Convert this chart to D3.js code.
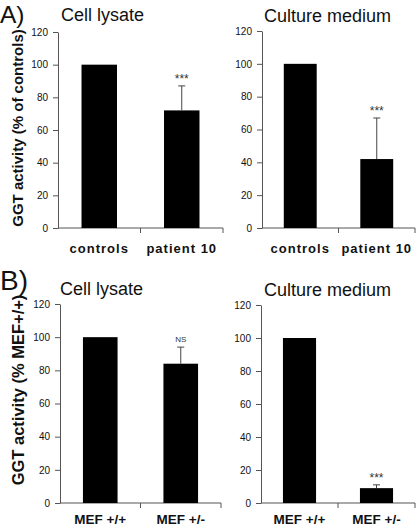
<!DOCTYPE html>
<html>
<head>
<meta charset="utf-8">
<script src="https://cdn.jsdelivr.net/npm/d3@7"></script>
<style>
  html, body { margin: 0; padding: 0; background: #fff; }
  svg { display: block; }
  text { font-family: "Liberation Sans", Arial, sans-serif; }
</style>
</head>
<body>
<svg id="chart" width="416" height="531"></svg>
<script>
// ---- data ----
const categoriesA = ["controls", "patient 10"];
const categoriesB = ["MEF +/+", "MEF +/-"];
const lysateA = [100, 72];
const lysateAErr = [0, 15];
const mediumA = [100, 42];
const mediumAErr = [0, 25];
const lysateB = [100, 84];
const lysateBErr = [0, 10];
const mediumB = [100, 9];
const mediumBErr = [0, 2];
const sigLysateA = ["", "***"];
const sigMediumA = ["", "***"];
const sigLysateB = ["", "NS"];
const sigMediumB = ["", "***"];
const yTicks = [0, 20, 40, 60, 80, 100, 120];
const panelTitles = ["Cell lysate", "Culture medium"];
const yTitleA = "GGT activity (% of controls)";
const yTitleB = "GGT activity (% MEF+/+)";

const svg = d3.select("#chart");

function drawPanel(cfg) {
  const { x0, x1, yTop, yBot, cats, vals, errs, sigs, title, titleX, titleY, labelStyle, labelY } = cfg;
  const x = d3.scaleBand().domain(cats).range([x0, x1]).paddingInner(0.57).paddingOuter(0.285);
  const y = d3.scaleLinear().domain([0, 120]).range([yBot, yTop]);
  const g = svg.append("g");

  // y axis
  const yAxis = d3.axisLeft(y).tickValues(yTicks).tickSize(5).tickSizeOuter(0).tickPadding(5);
  const ya = g.append("g").attr("transform", `translate(${x0},0)`).call(yAxis);
  ya.select(".domain").attr("stroke", "#555");
  ya.selectAll(".tick line").attr("stroke", "#555");
  ya.selectAll(".tick text").attr("font-size", 10).attr("fill", "#111")
    .attr("font-family", '"Liberation Sans", Arial, sans-serif');

  // x axis line with boundary ticks
  g.append("line").attr("x1", x0).attr("x2", x1).attr("y1", yBot).attr("y2", yBot).attr("stroke", "#555");
  const step = x.step();
  for (let i = 1; i <= cats.length; i++) {
    const bx = x0 + i * step;
    g.append("line").attr("x1", bx).attr("x2", bx).attr("y1", yBot).attr("y2", yBot + 5).attr("stroke", "#555");
  }

  // bars
  g.selectAll("rect.bar").data(cats).enter().append("rect")
    .attr("x", d => x(d))
    .attr("y", (d, i) => y(vals[i]))
    .attr("width", x.bandwidth())
    .attr("height", (d, i) => yBot - y(vals[i]))
    .attr("fill", "#000");

  // error bars (upper only)
  cats.forEach((c, i) => {
    if (!errs[i]) return;
    const cx = x(c) + x.bandwidth() / 2;
    const yt = y(vals[i] + errs[i]);
    g.append("line").attr("x1", cx).attr("x2", cx).attr("y1", y(vals[i])).attr("y2", yt).attr("stroke", "#444");
    g.append("line").attr("x1", cx - 3.5).attr("x2", cx + 3.5).attr("y1", yt).attr("y2", yt).attr("stroke", "#444");
    if (sigs[i]) {
      const isNS = sigs[i] === "NS";
      g.append("text").attr("x", cx).attr("y", isNS ? yt - 5 : yt - 3)
        .attr("text-anchor", "middle")
        .attr("font-size", isNS ? 8 : 12)
        .attr("fill", "#333")
        .text(sigs[i]);
    }
  });

  // category labels
  cats.forEach(c => {
    g.append("text").attr("x", x(c) + x.bandwidth() / 2).attr("y", labelY)
      .attr("text-anchor", "middle")
      .attr("font-size", labelStyle === "spaced" ? 13 : 13.5).attr("font-weight", "bold")
      .attr("letter-spacing", labelStyle === "spaced" ? 1 : 0)
      .attr("fill", "#111")
      .text(c);
  });

  // panel title
  g.append("text").attr("x", titleX).attr("y", titleY)
    .attr("font-size", 18).attr("fill", "#111").text(title);
}

drawPanel({ x0: 58, x1: 223, yTop: 32, yBot: 228, cats: categoriesA, vals: lysateA, errs: lysateAErr, sigs: sigLysateA,
  title: panelTitles[0], titleX: 61, titleY: 21, labelStyle: "spaced", labelY: 253 });
drawPanel({ x0: 262, x1: 415, yTop: 31, yBot: 228, cats: categoriesA, vals: mediumA, errs: mediumAErr, sigs: sigMediumA,
  title: panelTitles[1], titleX: 264, titleY: 22, labelStyle: "spaced", labelY: 253 });
drawPanel({ x0: 60, x1: 221, yTop: 304, yBot: 503, cats: categoriesB, vals: lysateB, errs: lysateBErr, sigs: sigLysateB,
  title: panelTitles[0], titleX: 60, titleY: 295, labelStyle: "plain", labelY: 524 });
drawPanel({ x0: 261, x1: 415, yTop: 305, yBot: 503, cats: categoriesB, vals: mediumB, errs: mediumBErr, sigs: sigMediumB,
  title: panelTitles[1], titleX: 264, titleY: 296, labelStyle: "plain", labelY: 524 });

// panel letters
svg.append("text").attr("x", 0).attr("y", 23).attr("font-size", 24.5).attr("fill", "#111").text("A)");
svg.append("text").attr("x", 0).attr("y", 290).attr("font-size", 28).attr("fill", "#111").text("B)");

// y axis titles
svg.append("text").attr("transform", "translate(23,128) rotate(-90)")
  .attr("text-anchor", "middle").attr("font-size", 15).attr("font-weight", "bold").attr("fill", "#111")
  .text(yTitleA);
svg.append("text").attr("transform", "translate(24,390) rotate(-90)")
  .attr("text-anchor", "middle").attr("font-size", 16.5).attr("font-weight", "bold").attr("fill", "#111")
  .text(yTitleB);
</script>
</body>
</html>
